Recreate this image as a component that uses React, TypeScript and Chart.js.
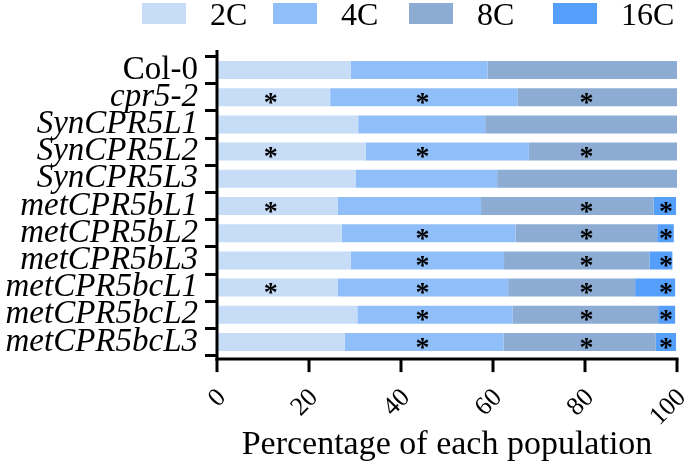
import React, { useEffect, useRef } from "react";
import { Chart, registerables } from "chart.js";

Chart.register(...registerables);

// ---- data ----
const categories = [
  "Col-0",
  "cpr5-2",
  "SynCPR5L1",
  "SynCPR5L2",
  "SynCPR5L3",
  "metCPR5bL1",
  "metCPR5bL2",
  "metCPR5bL3",
  "metCPR5bcL1",
  "metCPR5bcL2",
  "metCPR5bcL3",
];
const seriesNames = ["2C", "4C", "8C", "16C"];
const values2C = [29.1, 24.6, 30.7, 32.3, 30.1, 26.3, 27.1, 29.1, 26.2, 30.5, 27.8];
const values4C = [29.7, 40.7, 27.6, 35.5, 30.8, 31.1, 37.8, 33.3, 37.1, 33.8, 34.5];
const values8C = [41.2, 34.7, 41.7, 32.2, 39.1, 37.5, 30.8, 31.6, 27.6, 31.6, 33.1];
const values16C = [0, 0, 0, 0, 0, 4.9, 3.6, 5.0, 8.7, 3.7, 4.4];
// significance marks (*) per series
const sig2C = [0, 1, 0, 1, 0, 1, 0, 0, 1, 0, 0];
const sig4C = [0, 1, 0, 1, 0, 0, 1, 1, 1, 1, 1];
const sig8C = [0, 1, 0, 1, 0, 1, 1, 1, 1, 1, 1];
const sig16C = [0, 0, 0, 0, 0, 1, 1, 1, 1, 1, 1];
// x value (percentage) where each series' asterisk is placed
const starValues = [11.7, 44.7, 80.3, 97.6];
const xTickStep = 20;

// ---- styles ----
const colors = ["#C6DCF7", "#8FBEF8", "#8CACD3", "#559FFB"];
const SERIF = "'Liberation Serif', 'Times New Roman', serif";
const legendLeft = [142, 273, 409, 553];

export default function App() {
  const canvasRef = useRef<HTMLCanvasElement | null>(null);

  useEffect(() => {
    document.body.style.margin = "0";
    const canvas = canvasRef.current;
    if (!canvas) return;

    const seriesValues = [values2C, values4C, values8C, values16C];
    const sigs = [sig2C, sig4C, sig8C, sig16C];

    const decor = {
      id: "decor",
      afterDatasetsDraw(chart: any) {
        const { ctx, scales } = chart;
        const x = scales.x;
        const y = scales.y;
        ctx.save();
        ctx.fillStyle = "#000";
        ctx.font = `bold 28px ${SERIF}`;
        ctx.textAlign = "center";
        ctx.textBaseline = "alphabetic";
        sigs.forEach((sig, i) => {
          sig.forEach((s, j) => {
            if (s) {
              ctx.fillText("*", x.getPixelForValue(starValues[i]), y.getPixelForValue(j) + 13.5);
            }
          });
        });
        ctx.restore();
      },
      afterDraw(chart: any) {
        const { ctx, chartArea, scales } = chart;
        const x = scales.x;
        ctx.save();
        ctx.strokeStyle = "#000";
        ctx.lineWidth = 3;
        ctx.lineCap = "butt";
        const left = chartArea.left;
        const axisY = chartArea.bottom + 3.5;
        // y axis line
        ctx.beginPath();
        ctx.moveTo(left, chartArea.top - 6.5);
        ctx.lineTo(left, axisY + 1.5);
        ctx.stroke();
        // x axis line
        ctx.beginPath();
        ctx.moveTo(left - 1.5, axisY);
        ctx.lineTo(x.getPixelForValue(100) + 1.5, axisY);
        ctx.stroke();
        // x ticks
        x.ticks.forEach((t: any) => {
          const px = x.getPixelForValue(t.value);
          ctx.beginPath();
          ctx.moveTo(px, axisY);
          ctx.lineTo(px, axisY + 13);
          ctx.stroke();
        });
        // legend
        ctx.font = `32px ${SERIF}`;
        ctx.textAlign = "left";
        ctx.textBaseline = "alphabetic";
        chart.data.datasets.forEach((ds: any, i: number) => {
          ctx.fillStyle = ds.backgroundColor;
          ctx.fillRect(legendLeft[i], 3, 44, 21);
          ctx.fillStyle = "#000";
          ctx.fillText(ds.label, legendLeft[i] + 68, 25);
        });
        ctx.restore();
      },
    };

    const chart = new Chart(canvas, {
      type: "bar",
      data: {
        labels: categories,
        datasets: seriesNames.map((name, i) => ({
          label: name,
          data: seriesValues[i],
          backgroundColor: colors[i],
          borderWidth: 0,
          barPercentage: 0.66,
          categoryPercentage: 1,
        })),
      },
      options: {
        indexAxis: "y",
        animation: false,
        responsive: false,
        maintainAspectRatio: false,
        layout: { padding: { top: 56.4, right: 8, left: 0, bottom: 0 } },
        plugins: {
          legend: { display: false },
          tooltip: { enabled: false },
        },
        scales: {
          x: {
            type: "linear",
            stacked: true,
            min: 0,
            max: 100,
            grid: { display: false },
            border: { display: false },
            ticks: {
              stepSize: xTickStep,
              minRotation: 45,
              maxRotation: 45,
              padding: 19,
              labelOffset: 5,
              color: "#000",
              font: { family: SERIF, size: 26 },
            },
            title: {
              display: true,
              text: "Percentage of each population",
              color: "#000",
              font: { family: SERIF, size: 34, lineHeight: 1 },
              padding: { top: 0, bottom: 2 },
            },
            afterFit(scale: any) {
              scale.height = 108.4;
              scale.paddingLeft = 0;
              scale.paddingRight = 0;
            },
          },
          y: {
            type: "category",
            stacked: true,
            grid: {
              display: true,
              drawOnChartArea: false,
              drawTicks: true,
              tickLength: 12,
              tickWidth: 3,
              tickColor: "#000",
            },
            border: { display: false },
            ticks: {
              autoSkip: false,
              padding: 7,
              color: "#000",
              font: (c: any) => ({
                family: SERIF,
                size: 33,
                style: c.index === 0 ? "normal" : "italic",
              }),
            },
            afterFit(scale: any) {
              scale.width = 217;
              scale.paddingTop = 0;
              scale.paddingBottom = 0;
            },
          },
        },
      },
      plugins: [decor],
    });

    return () => chart.destroy();
  }, []);

  return (
    <div style={{ width: 685, height: 464, position: "relative" }}>
      <canvas ref={canvasRef} width={685} height={464} />
    </div>
  );
}
